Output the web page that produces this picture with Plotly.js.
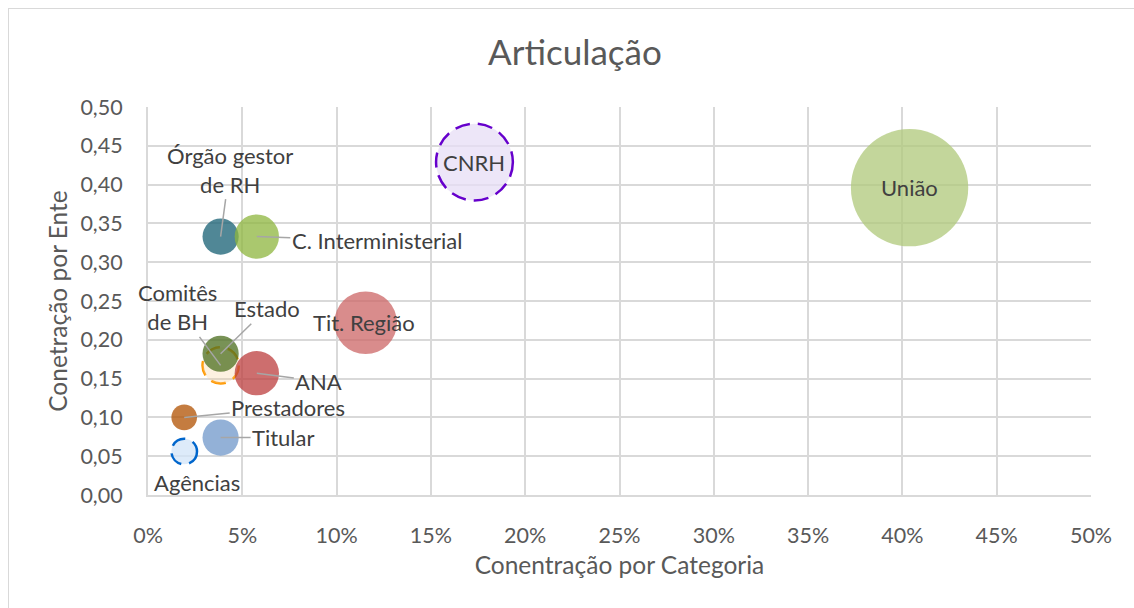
<!DOCTYPE html>
<html>
<head>
<meta charset="utf-8">
<script src="https://cdn.plot.ly/plotly-3.0.1.min.js"></script>
<style>
  html, body { margin: 0; padding: 0; background: #ffffff; overflow: hidden; }
  #chart { position: absolute; left: 0; top: 0; width: 1134px; height: 608px; }
  #frame { position: absolute; left: 8px; top: 8px; width: 1140px; height: 620px;
           border: 1px solid #d9d9d9; pointer-events: none; }
</style>
</head>
<body>
<div id="chart"></div>
<div id="frame"></div>
<script>
// ---------------- data ----------------
const categories = ['União', 'CNRH', 'Tit. Região', 'Órgão gestor de RH', 'C. Interministerial',
                    'Agências', 'Prestadores', 'Titular', 'Comitês de BH', 'Estado', 'ANA'];
const labelText  = ['União', 'CNRH', 'Tit. Região', 'Órgão gestor<br>de RH', 'C. Interministerial',
                    'Agências', 'Prestadores', 'Titular', 'Comitês<br>de BH', 'Estado', 'ANA'];
const concCategoria = [0.4038, 0.1731, 0.1154, 0.0385, 0.0577, 0.0192, 0.0192, 0.0385, 0.0385, 0.0385, 0.0577];
const concEnte      = [0.396, 0.429, 0.222, 0.333, 0.333, 0.056, 0.100, 0.074, 0.167, 0.182, 0.157];
const bubbleSize    = [21, 9, 6, 2, 3, 1, 1, 2, 2, 2, 3];
const xTickVals = [0, 0.05, 0.10, 0.15, 0.20, 0.25, 0.30, 0.35, 0.40, 0.45, 0.50];
const yTickVals = [0, 0.05, 0.10, 0.15, 0.20, 0.25, 0.30, 0.35, 0.40, 0.45, 0.50];

// ---------------- styles ----------------
const FONT = 'Lato, "Open Sans", sans-serif';
const fillColors = {
  'União': 'rgba(175,200,122,0.75)',
  'CNRH': 'rgba(231,222,246,0.75)',
  'Tit. Região': 'rgba(204,102,102,0.75)',
  'Órgão gestor de RH': 'rgba(22,95,115,0.75)',
  'C. Interministerial': 'rgba(142,182,62,0.75)',
  'Agências': 'rgba(210,228,248,0.75)',
  'Prestadores': 'rgba(176,80,0,0.75)',
  'Titular': 'rgba(111,151,202,0.75)',
  'Comitês de BH': 'rgba(248,208,155,0.3)',
  'Estado': 'rgba(75,110,30,0.75)',
  'ANA': 'rgba(188,62,62,0.75)'
};
const dashedRings = {
  'CNRH': {color: '#6600cc', layer: 'above'},
  'Agências': {color: '#0066cc', layer: 'above'},
  'Comitês de BH': {color: '#ff9900', layer: 'between'}
};
// label placement: ax/ay = pixel offset of label from bubble centre
const labelPlace = {
  'União': {arrow: false, dx: 0, dy: 0},
  'CNRH': {arrow: false, dx: 0, dy: 0},
  'Tit. Região': {arrow: false, dx: -2, dy: 0},
  'Órgão gestor de RH': {arrow: true, ax: 9, ay: -67},
  'C. Interministerial': {arrow: true, ax: 120, ay: 4},
  'Agências': {arrow: false, dx: 13, dy: -31},
  'Prestadores': {arrow: true, ax: 104, ay: -10},
  'Titular': {arrow: true, ax: 63, ay: 0},
  'Comitês de BH': {arrow: true, ax: -43, ay: -58},
  'Estado': {arrow: true, ax: 46, ay: -45},
  'ANA': {arrow: true, ax: 62, ay: 8}
};
const SIZEREF = 1 / (2 * 12.8 * 12.8);   // bubble of size 1 -> radius 12.8 px
function radiusOf(s) { return Math.sqrt(s / 2 / SIZEREF); }

// ---------------- traces ----------------
const traces = categories.map((c, i) => ({
  type: 'scatter',
  mode: 'markers',
  name: c,
  x: [concCategoria[i]],
  y: [concEnte[i]],
  marker: {
    size: [bubbleSize[i]],
    sizemode: 'area',
    sizeref: SIZEREF,
    color: fillColors[c],
    opacity: 1,
    line: {width: 0}
  },
  hovertemplate: c + '<br>%{x:.1%}<br>%{y:.3f}<extra></extra>',
  showlegend: false
}));

// dashed outlines, anchored to the data point
const shapes = [];
categories.forEach((c, i) => {
  if (!dashedRings[c]) return;
  const r = radiusOf(bubbleSize[i]);
  shapes.push({
    type: 'circle',
    layer: dashedRings[c].layer,
    xref: 'x', yref: 'y',
    xsizemode: 'pixel', ysizemode: 'pixel',
    xanchor: concCategoria[i], yanchor: concEnte[i],
    x0: -r, x1: r, y0: -r, y1: r,
    line: {color: dashedRings[c].color, width: 2.5, dash: '15px,8px'},
    fillcolor: 'rgba(0,0,0,0)'
  });
});

const annotations = categories.map((c, i) => {
  const p = labelPlace[c];
  const a = {
    x: concCategoria[i], y: concEnte[i], xref: 'x', yref: 'y',
    text: labelText[i],
    align: 'center',
    font: {family: FONT, size: 22, color: '#404040'}
  };
  if (p.arrow) {
    Object.assign(a, {showarrow: true, ax: p.ax, ay: p.ay, arrowhead: 0,
      arrowwidth: 1.5, arrowcolor: '#a6a6a6', standoff: 0, startstandoff: 0});
  } else {
    Object.assign(a, {showarrow: false, xshift: p.dx, yshift: p.dy});
  }
  return a;
});

const layout = {
  width: 1134, height: 608,
  margin: {l: 147.5, r: 42.5, t: 107, b: 113},
  paper_bgcolor: '#ffffff', plot_bgcolor: '#ffffff',
  separators: ',.',
  font: {family: FONT, color: '#595959'},
  title: {text: 'Articulação', x: 0.507, xref: 'container', y: 0.913, yref: 'container',
          xanchor: 'center', yanchor: 'middle', font: {family: FONT, size: 35, color: '#595959'}},
  xaxis: {
    range: [0, 0.5], tickvals: xTickVals, tickformat: '.0%',
    showgrid: true, gridcolor: '#d9d9d9', gridwidth: 2,
    zeroline: false, showline: true, linecolor: '#d9d9d9', linewidth: 2, mirror: false,
    ticks: '', ticklabelstandoff: 20,
    tickfont: {family: FONT, size: 21.5, color: '#595959'},
    title: {text: 'Conentração por Categoria', standoff: 10, font: {family: FONT, size: 24.5, color: '#595959'}},
    fixedrange: true
  },
  yaxis: {
    range: [0, 0.5], tickvals: yTickVals, tickformat: '.2f',
    showgrid: true, gridcolor: '#d9d9d9', gridwidth: 2,
    zeroline: false, showline: true, linecolor: '#d9d9d9', linewidth: 2,
    ticks: '', ticklabelstandoff: 19,
    tickfont: {family: FONT, size: 21.5, color: '#595959'},
    title: {text: 'Conetração por Ente', standoff: 6, font: {family: FONT, size: 24.5, color: '#595959'}},
    fixedrange: true
  },
  shapes: shapes,
  annotations: annotations,
  showlegend: false
};

Plotly.newPlot('chart', traces, layout, {displayModeBar: false, staticPlot: false, responsive: false});
</script>
</body>
</html>
